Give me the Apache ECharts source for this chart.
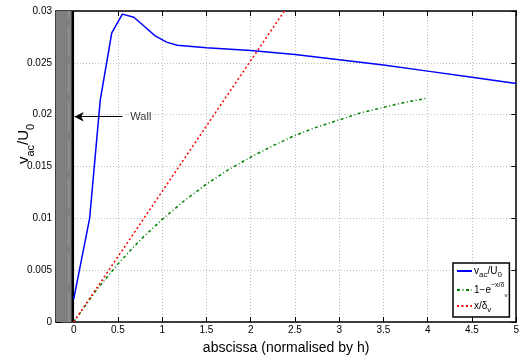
<!DOCTYPE html>
<html><head><meta charset="utf-8">
<script src="https://cdn.jsdelivr.net/npm/echarts@6/dist/echarts.min.js"></script>
<style>html,body{margin:0;padding:0;background:#fff}#c{width:522px;height:360px}</style>
</head><body><div id="c"></div>
<script>
// ---- data ----
const blueX = [0, 0.18, 0.30, 0.43, 0.55, 0.68, 0.80, 0.92, 1.05, 1.17, 1.5, 2.0, 2.5, 3.0, 3.5, 4.0, 4.5, 5.0];
const blueY = [0.0022, 0.0100, 0.0214, 0.0279, 0.0297, 0.0294, 0.0285, 0.0276, 0.0270, 0.0267, 0.02645, 0.0262, 0.0258, 0.0253, 0.0248, 0.0242, 0.0236, 0.0230];
const greenX = [0, 0.25, 0.5, 0.75, 1, 1.25, 1.5, 1.75, 2, 2.25, 2.5, 2.75, 3, 3.25, 3.5, 3.75, 4];
const greenY = [0, 0.0030, 0.0056, 0.0079, 0.0099, 0.0117, 0.0133, 0.0147, 0.0159, 0.0170, 0.0180, 0.0188, 0.0195, 0.0202, 0.0207, 0.0212, 0.0216];
const redX = [0, 2.38];
const redY = [0, 0.0300];
const xTicks = [0, 0.5, 1, 1.5, 2, 2.5, 3, 3.5, 4, 4.5, 5];
const wallRange = [-0.2, 0];
const arrowFrom = [0.55, 0.0198];
const arrowTo = [0.01, 0.0198];
const wallTextPos = [0.64, 0.0198];

const zip = (xs, ys) => xs.map((x, i) => [x, ys[i]]);
const FONT = '"Liberation Sans", Arial, Helvetica, sans-serif';

const chart = echarts.init(document.getElementById('c'), null, {renderer: 'canvas'});
const gridLine = {show: true, lineStyle: {color: '#bdbdbd', type: [1, 2], width: 1}};
const axLine = {show: true, onZero: false, lineStyle: {color: '#000', width: 1.5}};
const tick = {show: true, inside: true, length: 5, lineStyle: {color: '#000', width: 1}};

const legendNames = {
  vac: '{m|v}{s|ac}{m|/U}{s|0}',
  exp: '{m|1\u2212e}{p|\u2212x/\u03b4}{q|v}',
  lin: '{m|x/\u03b4}{s|v}'
};

chart.setOption({
  animation: false,
  textStyle: {fontFamily: FONT},
  grid: {left: 56, right: 4, top: 11, bottom: 28, containLabel: false},
  xAxis: [{
    type: 'value', min: wallRange[0], max: 5, position: 'bottom',
    axisLine: axLine,
    axisTick: Object.assign({}, tick, {customValues: xTicks}),
    axisLabel: {customValues: xTicks, color: '#000', fontSize: 10, margin: 3, fontFamily: FONT},
    splitLine: gridLine,
    name: 'abscissa (normalised by h)', nameLocation: 'middle', nameGap: 19,
    nameTextStyle: {fontSize: 14, color: '#000', fontFamily: FONT}
  }, {
    type: 'value', min: wallRange[0], max: 5, position: 'top',
    axisLine: axLine,
    axisTick: Object.assign({}, tick, {customValues: xTicks}),
    axisLabel: {show: false}, splitLine: {show: false}
  }],
  yAxis: [{
    type: 'value', min: 0, max: 0.03, interval: 0.005, position: 'left',
    axisLine: axLine, axisTick: tick,
    axisLabel: {color: '#000', fontSize: 10, margin: 4, fontFamily: FONT},
    splitLine: gridLine
  }, {
    type: 'value', min: 0, max: 0.03, interval: 0.005, position: 'right',
    axisLine: axLine, axisTick: tick,
    axisLabel: {show: false}, splitLine: {show: false}
  }],
  legend: {
    data: ['vac', 'exp', 'lin'],
    orient: 'vertical', left: 453, top: 263,
    backgroundColor: '#fff', borderColor: '#000', borderWidth: 1.5, borderRadius: 0,
    padding: [3, 2, 3, 3], itemGap: 3, itemWidth: 15, itemHeight: 10,
    itemStyle: {opacity: 0},
    formatter: n => legendNames[n],
    textStyle: {
      color: '#000', fontFamily: FONT, padding: [0, 0, 0, -3],
      rich: {
        m: {fontSize: 10, lineHeight: 16, verticalAlign: 'middle', fontFamily: FONT},
        s: {fontSize: 8, lineHeight: 16, verticalAlign: 'bottom', fontFamily: FONT},
        p: {fontSize: 7, lineHeight: 16, verticalAlign: 'top', fontFamily: FONT},
        q: {fontSize: 6, lineHeight: 16, verticalAlign: 'bottom', fontFamily: FONT}
      }
    }
  },
  series: [
    {
      name: 'wall', type: 'line', data: [], silent: true, z: 1,
      markArea: {silent: true, itemStyle: {color: '#7f7f7f', opacity: 1},
        data: [[{xAxis: wallRange[0]}, {xAxis: wallRange[1]}]]}
    },
    {
      name: 'streak', type: 'line', symbol: 'none', silent: true, z: 2,
      data: [[-0.055, 0], [-0.055, 0.03]],
      lineStyle: {color: '#a8a8a8', width: 1, type: [30, 8], opacity: 0.7}
    },
    {
      name: 'wallEdge', type: 'line', symbol: 'none', silent: true, z: 3,
      data: [[wallRange[1] - 0.01, 0], [wallRange[1] - 0.01, 0.03]],
      lineStyle: {color: '#000', width: 2.5}
    },
    {
      name: 'vac', type: 'line', symbol: 'none', z: 4,
      data: zip(blueX, blueY), color: '#0000ff',
      lineStyle: {color: '#0000ff', width: 1.5}
    },
    {
      name: 'exp', type: 'line', symbol: 'none', z: 4,
      data: zip(greenX, greenY), color: '#008000',
      lineStyle: {color: '#008000', width: 1.5, type: [3, 2.5, 1, 2.5]}
    },
    {
      name: 'lin', type: 'line', symbol: 'none', z: 4,
      data: zip(redX, redY), color: '#ff0000',
      lineStyle: {color: '#ff0000', width: 1.5, type: [2, 2.5]}
    },
    {
      name: 'arrow', type: 'line', data: [], silent: true, z: 5,
      markLine: {
        silent: true, symbol: ['none', 'arrow'], symbolSize: [7, 9],
        lineStyle: {color: '#000', width: 1, type: 'solid'},
        label: {show: false},
        data: [[{coord: arrowFrom}, {coord: arrowTo}]]
      }
    },
    {
      name: 'wallText', type: 'scatter', symbolSize: 0, silent: true, z: 5,
      data: [wallTextPos],
      label: {show: true, formatter: 'Wall', position: 'right', distance: 0,
        color: '#000', fontSize: 11, fontFamily: FONT}
    }
  ],
  graphic: [{
    type: 'text', x: 24, y: 144, rotation: Math.PI / 2,
    style: {
      text: '{m|v}{s|ac}{m|/U}{s|0}', align: 'center', verticalAlign: 'middle',
      fill: '#000', fontFamily: FONT,
      rich: {
        m: {fontSize: 15, lineHeight: 24, verticalAlign: 'middle', fontFamily: FONT},
        s: {fontSize: 11, lineHeight: 24, verticalAlign: 'bottom', fontFamily: FONT}
      }
    }
  }]
});
</script></body></html>
